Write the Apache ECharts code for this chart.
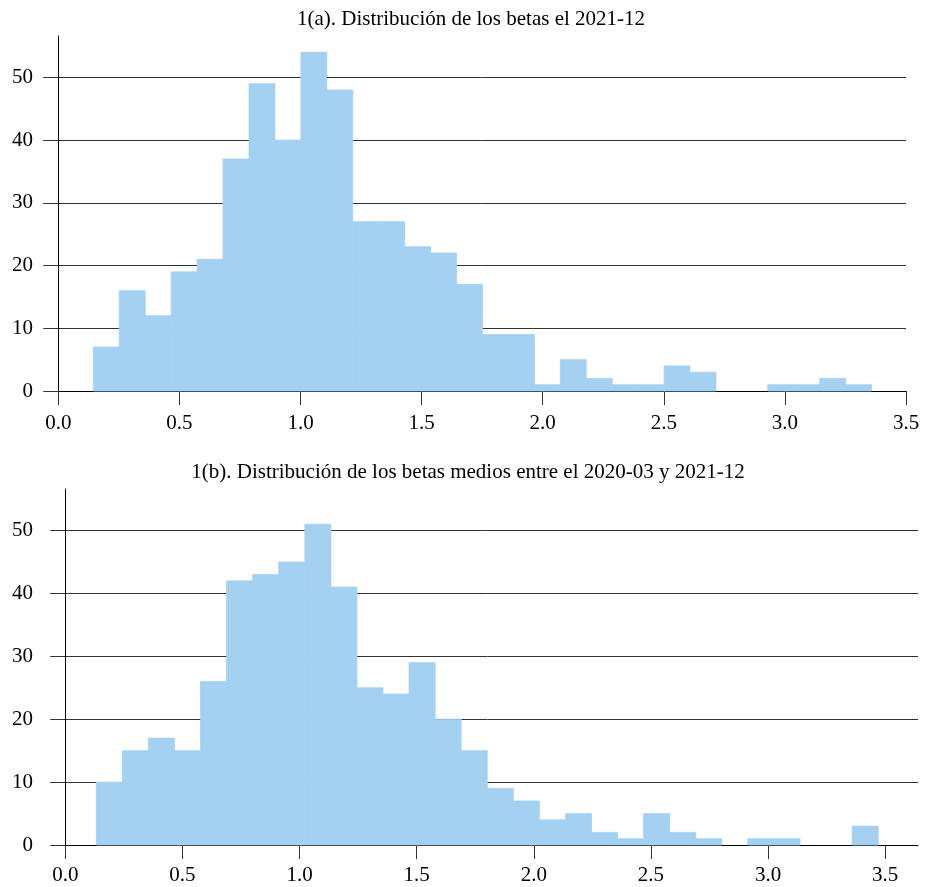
<!DOCTYPE html>
<html>
<head>
<meta charset="utf-8">
<script src="https://cdn.jsdelivr.net/npm/echarts@6/dist/echarts.min.js"></script>
<style>
html,body{margin:0;padding:0;background:#fff;}
#chart{width:926px;height:887px;}
</style>
</head>
<body>
<div id="chart"></div>
<script>
// ---- Data ----
const titleA = "1(a). Distribución de los betas el 2021-12";
const titleB = "1(b). Distribución de los betas medios entre el 2020-03 y 2021-12";

// Histogram (a): 30 bins
const binStartA = 0.1446;
const binEndA = 3.358;
const countsA = [7,16,12,19,21,37,49,40,54,48,27,27,23,22,17,9,9,1,5,2,1,1,4,3,0,0,1,1,2,1];

// Histogram (b): 30 bins
const binStartB = 0.1323;
const binEndB = 3.47;
const countsB = [10,15,17,15,26,42,43,45,51,41,25,24,29,20,15,9,7,4,5,2,1,5,2,1,0,1,1,0,0,3];

const xTicks = [0, 0.5, 1.0, 1.5, 2.0, 2.5, 3.0, 3.5];
const yTicks = [0, 10, 20, 30, 40, 50];

// ---- Build ----
function bins(start, end, counts) {
  const w = (end - start) / counts.length;
  return counts.map((c, i) => [start + i * w, start + (i + 1) * w, c]);
}

const FONT = "'Liberation Serif', 'DejaVu Serif', serif";
const BAR = '#a4d1f1';

function renderBar(params, api) {
  if (!api.value(2)) return null;
  const p0 = api.coord([api.value(0), api.value(2)]);
  const p1 = api.coord([api.value(1), 0]);
  return {
    type: 'rect',
    shape: { x: p0[0], y: p0[1], width: p1[0] - p0[0], height: p1[1] - p0[1] },
    style: { fill: BAR, stroke: BAR, lineWidth: 0.8 }
  };
}

function xAxisCfg(gridIndex, min, max, margin) {
  return {
    type: 'value', gridIndex, min, max,
    axisLine: { show: true, lineStyle: { color: '#000', width: 1 } },
    axisTick: { show: true, length: 14, inside: false, customValues: xTicks, lineStyle: { color: '#333', width: 1 } },
    axisLabel: { customValues: xTicks, formatter: v => v.toFixed(1), fontFamily: FONT, fontSize: 21, color: '#000', margin },
    splitLine: { show: false }
  };
}
function yAxisCfg(gridIndex) {
  return {
    type: 'value', gridIndex, min: 0, max: 56.6,
    axisLine: { show: true, lineStyle: { color: '#000', width: 1 } },
    axisTick: { show: true, length: 15, customValues: yTicks, lineStyle: { color: '#333', width: 1 } },
    axisLabel: { customValues: yTicks, fontFamily: FONT, fontSize: 21, color: '#000', margin: 24 },
    splitLine: { show: true, lineStyle: { color: '#333', width: 1 } }
  };
}

const chart = echarts.init(document.getElementById('chart'), null, { renderer: 'canvas' });
chart.setOption({
  animation: false,
  backgroundColor: '#fff',
  title: [
    { text: titleA, left: 466, top: 4, textAlign: 'center',
      textStyle: { fontFamily: FONT, fontSize: 21, fontWeight: 'normal', color: '#000' } },
    { text: titleB, left: 463, top: 457, textAlign: 'center',
      textStyle: { fontFamily: FONT, fontSize: 21, fontWeight: 'normal', color: '#000' } }
  ],
  grid: [
    { left: 57, width: 849, top: 36, height: 355 },
    { left: 57, width: 861, top: 489, height: 356 }
  ],
  xAxis: [ xAxisCfg(0, -0.0054, 3.5, 22), xAxisCfg(1, -0.0354, 3.64, 20) ],
  yAxis: [ yAxisCfg(0), yAxisCfg(1) ],
  series: [
    { type: 'custom', xAxisIndex: 0, yAxisIndex: 0, renderItem: renderBar,
      encode: { x: [0, 1], y: 2 }, data: bins(binStartA, binEndA, countsA) },
    { type: 'custom', xAxisIndex: 1, yAxisIndex: 1, renderItem: renderBar,
      encode: { x: [0, 1], y: 2 }, data: bins(binStartB, binEndB, countsB) }
  ]
});
</script>
</body>
</html>
